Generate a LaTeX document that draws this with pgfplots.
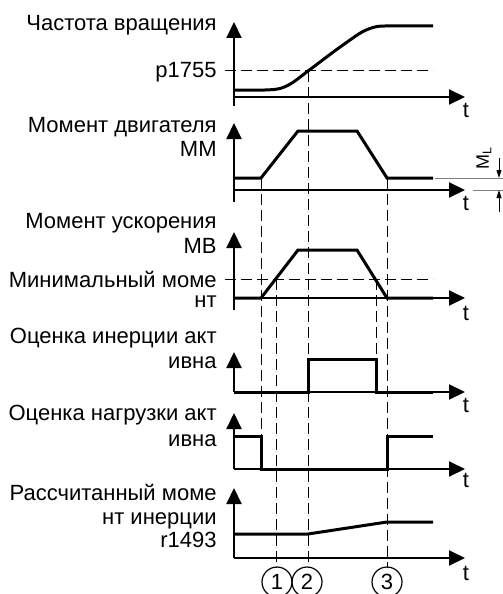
\documentclass[border=0pt]{standalone}
\usepackage{fontspec}
\setmainfont{Liberation Sans}
\usepackage{pgfplots}
\pgfplotsset{compat=1.18}
\usetikzlibrary{arrows.meta}
\tikzset{
  sig/.style={black, line width=1.5bp, line join=miter},
  ax/.style={black, line width=1bp, -{Triangle[length=8bp,width=7.5bp]}},
  dsh/.style={black, line width=0.5bp, dash pattern=on 5.5bp off 2.5bp},
  lbl/.style={anchor=base east, inner sep=0pt},
  tl/.style={anchor=base, inner sep=0pt},
}
\begin{document}
\begin{tikzpicture}[font=\fontsize{11bp}{13bp}\selectfont]
\begin{axis}[
  scale only axis, width=251.5bp, height=297bp,
  xmin=0, xmax=503, ymin=0, ymax=594, y dir=reverse,
  hide axis, clip=false,
]
\coordinate (bbA) at (axis cs:0,0);
\coordinate (bbB) at (axis cs:503,594);

% guide lines (dashed)
\addplot[dsh] coordinates {(225,71) (433,71)};
\addplot[dsh] coordinates {(225,279) (433,279)};
\addplot[dsh] coordinates {(308,71) (308,568)};
\addplot[dsh] coordinates {(261,178) (261,436)};
\addplot[dsh] coordinates {(276,279) (276,568)};
\addplot[dsh] coordinates {(376,279) (376,392)};
\addplot[dsh] coordinates {(387,178) (387,568)};

% axes
\addplot[ax] coordinates {(234,106) (234,22)};
\addplot[ax] coordinates {(234,97) (465,97)};
\addplot[ax] coordinates {(234,202) (234,123)};
\addplot[ax] coordinates {(234,190) (465,190)};
\addplot[ax] coordinates {(234,310) (234,232)};
\addplot[ax] coordinates {(234,298) (465,298)};
\addplot[ax] coordinates {(234,392) (234,352)};
\addplot[ax] coordinates {(234,392) (465,392)};
\addplot[ax] coordinates {(234,469) (234,413)};
\addplot[ax] coordinates {(234,469) (465,469)};
\addplot[ax] coordinates {(234,558) (234,488)};
\addplot[ax] coordinates {(234,558) (465,558)};

% signals
\addplot[sig, smooth] coordinates {(234,90) (265,90) (280,88.5) (292,83) (308,71)
  (322,60.5) (336,50) (350,40) (362,32) (373,27.5) (385,26) (433,26)};
\addplot[sig] coordinates {(234,178) (261,178) (298,131) (357,131) (387,178) (433,178)};
\addplot[sig] coordinates {(234,298) (261,298) (298,250) (357,250) (387,298) (433,298)};
\addplot[sig] coordinates {(234,392) (308,392) (308,359) (376,359) (376,392) (433,392)};
\addplot[sig] coordinates {(234,436) (261,436) (261,469) (387,469) (387,436) (433,436)};
\addplot[sig] coordinates {(234,534) (308,534) (387,522) (433,522)};

% M_L dimension
\addplot[gray, line width=0.5bp] coordinates {(435,178) (503,178)};
\addplot[gray, line width=0.5bp] coordinates {(473,190) (503,190)};
\addplot[black, line width=0.5bp, -{Triangle[length=4bp,width=2.5bp]}] coordinates {(499,158) (499,178)};
\addplot[black, line width=0.5bp, -{Triangle[length=4bp,width=2.5bp]}] coordinates {(499,212) (499,190)};
\node[rotate=90, font=\fontsize{9bp}{10bp}\selectfont, inner sep=0pt] at (axis cs:484,158) {M\textsubscript{L}};

% labels
\node[lbl] at (axis cs:217,31) {Частота вращения};
\node[lbl] at (axis cs:217,78) {p1755};
\node[lbl] at (axis cs:217,132) {Момент двигателя};
\node[lbl] at (axis cs:217,156) {ММ};
\node[lbl] at (axis cs:217,228) {Момент ускорения};
\node[lbl] at (axis cs:217,253) {МВ};
\node[lbl] at (axis cs:217,287) {Минимальный моме};
\node[lbl] at (axis cs:217,307) {нт};
\node[lbl] at (axis cs:217,343) {Оценка инерции акт};
\node[lbl] at (axis cs:217,368) {ивна};
\node[lbl] at (axis cs:217,420) {Оценка нагрузки акт};
\node[lbl] at (axis cs:217,446) {ивна};
\node[lbl] at (axis cs:217,500) {Рассчитанный моме};
\node[lbl] at (axis cs:217,524) {нт инерции};
\node[lbl] at (axis cs:217,547) {r1493};

\node[tl] at (axis cs:466,118) {t};
\node[tl] at (axis cs:466,210) {t};
\node[tl] at (axis cs:466,320) {t};
\node[tl] at (axis cs:466,412) {t};
\node[tl] at (axis cs:466,487) {t};
\node[tl] at (axis cs:466,580) {t};

\node[circle, draw, line width=0.6bp, minimum size=15bp, inner sep=0pt] at (axis cs:277,582) {1};
\node[circle, draw, line width=0.6bp, minimum size=15bp, inner sep=0pt] at (axis cs:307,582) {2};
\node[circle, draw, line width=0.6bp, minimum size=15bp, inner sep=0pt] at (axis cs:387,582) {3};
\end{axis}
\pgfresetboundingbox
\path[use as bounding box] (bbA) rectangle (bbB);
\end{tikzpicture}
\end{document}
